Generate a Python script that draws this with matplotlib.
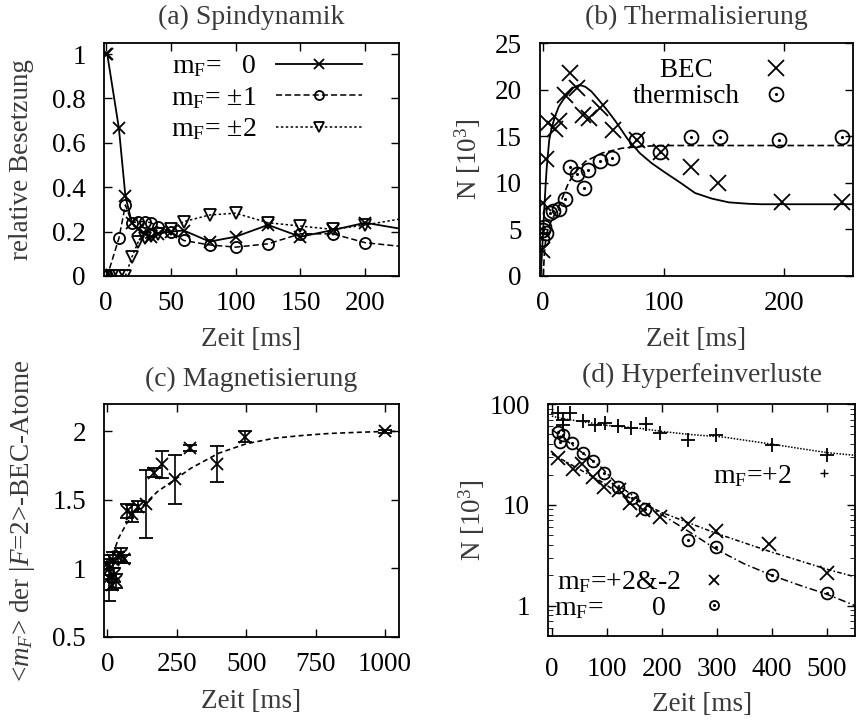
import matplotlib
matplotlib.use("Agg")
import matplotlib.pyplot as plt
from matplotlib.ticker import FixedLocator, NullFormatter, LogLocator

plt.rcParams['font.family'] = ['Liberation Serif', 'DejaVu Serif']
plt.rcParams['mathtext.fontset'] = 'custom'
plt.rcParams['mathtext.rm'] = 'Liberation Serif'
plt.rcParams['mathtext.it'] = 'Liberation Serif:italic'
plt.rcParams['font.size'] = 19.5
plt.rcParams['axes.linewidth'] = 1.3

TXT = '#3a3a3a'

# ---- (a) Spindynamik
t_a = [0, 1, 10, 15, 20, 25, 30, 35, 40, 50, 60, 80, 100, 125, 150, 175, 200, 250]
mf0 = [1.0, 1.0, 0.665, 0.36, 0.24, 0.21, 0.19, 0.175, 0.19, 0.20, 0.205, 0.155, 0.177, 0.23, 0.177, 0.207, 0.24, 0.19]
mf1 = [0.0, 0.0, 0.17, 0.32, 0.24, 0.245, 0.245, 0.24, 0.22, 0.20, 0.16, 0.14, 0.13, 0.145, 0.19, 0.19, 0.15, 0.12]
t_a2 = [0, 5, 10, 15, 20, 25, 30, 35, 40, 50, 60, 80, 100, 125, 150, 175, 200, 250]
mf2 = [0.0, 0.0, 0.0, 0.0, 0.085, 0.155, 0.17, 0.18, 0.19, 0.21, 0.245, 0.275, 0.283, 0.24, 0.225, 0.21, 0.23, 0.28]

# ---- (b) Thermalisierung
t_bec = [-1, 0, 2.5, 4, 9.5, 13, 18, 22, 28, 33, 38, 47, 58, 78, 98, 123, 145, 198, 248]
n_bec = [2.8, 7.8, 12.5, 16.4, 15.8, 16.6, 19.4, 21.8, 20.2, 17.3, 16.9, 18.0, 15.7, 14.6, 13.35, 11.7, 9.95, 7.9, 7.9]
t_th = [-1, -0.5, 1, 2, 5.5, 8, 13, 18, 22.5, 28, 33.5, 37.5, 47, 57, 77, 97, 123, 147, 196, 248]
n_th = [4.0, 4.9, 5.3, 4.6, 6.8, 7.0, 7.2, 8.3, 11.7, 10.9, 9.4, 11.4, 12.3, 12.7, 14.6, 13.35, 14.9, 14.9, 14.6, 14.9]
fit_bec_t = [-2, -1, 0, 1, 2, 3, 5, 7, 10, 13, 17, 21, 25, 30, 35, 40, 46, 53, 60, 70, 80, 90, 100, 115, 126, 140, 154, 170, 181, 200, 260]
fit_bec_n = [0, 2.5, 5.0, 7.5, 9.8, 11.8, 14.6, 15.9, 17.2, 18.2, 19.0, 19.6, 20.2, 20.5, 20.3, 19.8, 18.9, 17.8, 16.6, 14.7, 13.2, 12.1, 11.2, 9.9, 8.9, 8.3, 7.9, 7.75, 7.7, 7.7, 7.7]
fit_th_t = [0, 1, 2, 4, 7, 10, 15, 21, 27, 35, 49, 65, 80, 100, 260]
fit_th_n = [0, 2.5, 3.8, 5.1, 6.0, 6.7, 8.1, 10.0, 11.2, 12.3, 13.2, 13.7, 13.9, 14.0, 14.0]

# ---- (c) Magnetisierung
t_c = [0, 5, 10, 15, 20, 25, 30, 40, 50, 60, 70, 90, 110, 140, 168, 196, 244, 296, 396, 496, 1000]
m_c = [1.03, 0.93, 1.0, 0.88, 1.06, 0.95, 0.91, 1.08, 1.10, 1.07, 1.42, 1.40, 1.45, 1.47, 1.70, 1.76, 1.65, 1.88, 1.76, 1.96, 2.0]
e_c = [0.04, 0.17, 0.05, 0.04, 0.06, 0.05, 0.05, 0.04, 0.05, 0.03, 0.05, 0.06, 0.04, 0.25, 0.03, 0.10, 0.18, 0.02, 0.13, 0.04, 0.01]
fit_c_t = [20, 40, 70, 100, 140, 180, 230, 300, 400, 500, 600, 700, 800, 900, 1000, 1050]
fit_c_m = [1.10, 1.22, 1.33, 1.41, 1.48, 1.56, 1.63, 1.73, 1.84, 1.91, 1.95, 1.97, 1.985, 1.993, 2.0, 2.0]

# ---- (d) Hyperfeinverluste
t_p2 = [12, 20, 20, 33, 57, 78, 96, 120, 144, 171, 196, 247, 298, 400, 500]
n_p2 = [81, 70, 62, 81, 68.6, 62, 64.6, 60, 58, 63.5, 52, 44, 49.5, 39, 31]
t_pm = [12, 38, 54, 75, 95, 122, 142, 165, 197, 247, 298, 395, 500]
n_pm = [29.5, 22.5, 25.5, 19, 15, 13.9, 10.5, 8.9, 7.6, 6.5, 5.5, 4.1, 2.1]
t_m0 = [11, 15, 20, 36, 57, 75, 95, 121, 146, 169, 247, 298, 400, 500]
n_m0 = [53, 42.5, 49.5, 41, 32.5, 27, 20.5, 15.1, 11.6, 9.2, 4.5, 3.8, 2.0, 1.33]
fit_p2_t = [0, 15, 50, 100, 160, 200, 250, 313, 400, 500, 552]
fit_p2_n = [76, 72.5, 67.5, 61.5, 57.5, 53.5, 50, 47, 40, 33, 31]
fit_d_t = [0, 30, 60, 90, 120, 160, 200, 250, 300, 350, 400, 450, 500, 552]
fit_pm_n = [32, 26, 21, 17, 13.2, 10.7, 8.4, 6.6, 5.2, 4.2, 3.4, 2.8, 2.3, 1.93]
fit_m0_n = [56, 42, 31.5, 23.5, 15.8, 11.0, 8.0, 5.4, 3.6, 2.6, 2.0, 1.6, 1.3, 1.0]

fig = plt.figure(figsize=(8.56, 7.24), dpi=100)
ax_a = fig.add_axes([0.1215, 0.6188, 0.3446, 0.3218])
ax_b = fig.add_axes([0.6308, 0.6188, 0.3657, 0.3218])
ax_c = fig.add_axes([0.1215, 0.1202, 0.3446, 0.3218])
ax_d = fig.add_axes([0.6402, 0.1215, 0.3590, 0.3204])

titles = {ax_a: ('(a) Spindynamik', 1.11), ax_b: ('(b) Thermalisierung', 1.11),
          ax_c: ('(c) Magnetisierung', 1.105), ax_d: ('(d) Hyperfeinverluste', 1.125)}
xlab_y = {ax_a: -0.22, ax_b: -0.22, ax_c: -0.225, ax_d: -0.24}
ylab_x = {ax_a: -0.237, ax_b: -0.182, ax_c: -0.227, ax_d: -0.198}

for ax in (ax_a, ax_b, ax_c, ax_d):
    ax.tick_params(direction='in', top=True, right=True, length=6, width=1.0,
                   pad=13)
    ax.tick_params(axis='x', pad=11)
    ax.tick_params(which='minor', direction='in', top=True, right=True, length=3.5)
    ax.set_xlabel('Zeit [ms]', color=TXT)
    ax.xaxis.set_label_coords(0.5, xlab_y[ax])
    ax.text(0.5, titles[ax][1], titles[ax][0], transform=ax.transAxes,
            ha='center', va='center', fontsize=20, color=TXT)

ms_kw = dict(color='black', mfc='none', mew=1.3)

# (a)
ax_a.plot(t_a, mf0, '-', marker='x', ms=9, lw=1.3, **ms_kw)
ax_a.plot(t_a, mf1, ls=(0, (4, 2)), marker='o', ms=8, lw=1.1, **ms_kw)
ax_a.plot(t_a2, mf2, ls=(0, (1.6, 1.6)), marker='v', ms=8, lw=1.1, **ms_kw)
k0, = ax_a.plot([], [], '-', marker='x', ms=7, lw=1.3, **ms_kw)
k1, = ax_a.plot([], [], ls=(0, (4, 2)), marker='o', ms=6.5, lw=1.1, **ms_kw)
k2, = ax_a.plot([], [], ls=(0, (1.6, 1.6)), marker='v', ms=6.5, lw=1.1, **ms_kw)
ax_a.set_xlim(-1.5, 226)
ax_a.set_ylim(0, 1.05)
ax_a.set_xticks([0, 50, 100, 150, 200])
ax_a.set_yticks([0, 0.2, 0.4, 0.6, 0.8, 1])
ax_a.set_yticklabels(['0', '0.2', '0.4', '0.6', '0.8', '1'])
ax_a.set_ylabel('relative Besetzung', color=TXT)
ax_a.legend([k0, k1, k2],
            [r'm$_{\rm F}$=   0', r'm$_{\rm F}$= $\pm$1', r'm$_{\rm F}$= $\pm$2'],
            loc='upper left', bbox_to_anchor=(0.2, 0.99), frameon=False,
            markerfirst=False, handlelength=3.1, labelspacing=0.2,
            handletextpad=0.7, borderaxespad=0.0, borderpad=0.3,
            prop={'size': 20})

# (b)
ax_b.plot(fit_bec_t, fit_bec_n, '-', color='black', lw=1.3)
ax_b.plot(fit_th_t, fit_th_n, ls=(0, (4, 2)), color='black', lw=1.2)
hb, = ax_b.plot(t_bec, n_bec, 'x', ms=11, **ms_kw)
hc, = ax_b.plot(t_th, n_th, 'o', ms=10, **ms_kw)
hd, = ax_b.plot(t_th, n_th, '.', ms=2.5, color='black')
ax_b.set_xlim(-2.7, 257)
ax_b.set_ylim(0, 25)
ax_b.set_xticks([0, 100, 200])
ax_b.set_yticks([0, 5, 10, 15, 20, 25])
ax_b.set_ylabel(r'N [10$^3$]', color=TXT)
ax_b.legend([hb, (hc, hd)], ['BEC    ', 'thermisch'], loc='upper left',
            bbox_to_anchor=(0.27, 0.97), frameon=False, markerfirst=False,
            handlelength=1.4, labelspacing=0.05, handletextpad=0.65,
            borderaxespad=0.0, borderpad=0.3, prop={'size': 19.5})

# (c)
ax_c.plot(fit_c_t, fit_c_m, ls=(0, (3, 2)), color='black', lw=1.2)
ax_c.errorbar(t_c, m_c, yerr=e_c, fmt='x', ms=9, color='black', mew=1.3,
              elinewidth=1.2, capsize=5, capthick=1.2)
ax_c.set_xlim(-12, 1050)
ax_c.set_ylim(0.5, 2.2)
ax_c.set_xticks([0, 250, 500, 750, 1000])
ax_c.set_yticks([0.5, 1, 1.5, 2])
ax_c.set_yticklabels(['0.5', '1', '1.5', '2'])
ax_c.set_ylabel(r'<$m_F$> der |$F$=2>-BEC-Atome', color=TXT)

# (d)
ax_d.plot(fit_p2_t, fit_p2_n, ls=(0, (1, 1)), color='black', lw=1.1)
ax_d.plot(fit_d_t, fit_pm_n, ls=(0, (3, 1.5, 1, 1.5)), color='black', lw=1.1)
ax_d.plot(fit_d_t, fit_m0_n, ls=(0, (5, 2, 1, 2)), color='black', lw=1.1)
ax_d.plot(t_p2, n_p2, '+', ms=10, **ms_kw)
ax_d.plot(t_pm, n_pm, 'x', ms=9.5, **ms_kw)
ax_d.plot(t_m0, n_m0, 'o', ms=8.5, **ms_kw)
ax_d.plot(t_m0, n_m0, '.', ms=2.5, color='black')
ax_d.set_yscale('log')
ax_d.set_xlim(-7, 552)
ax_d.set_ylim(0.5, 100)
ax_d.set_xticks([0, 100, 200, 300, 400, 500])
ax_d.yaxis.set_major_locator(FixedLocator([1, 10, 100]))
ax_d.yaxis.set_minor_locator(LogLocator(base=10, subs=range(2, 10)))
ax_d.yaxis.set_minor_formatter(NullFormatter())
ax_d.set_yticklabels(['1', '10', '100'])
ax_d.tick_params(axis='x', pad=15)
ax_d.set_ylabel(r'N [10$^3$]', color=TXT)

lp, = ax_d.plot([], [], '+', ms=6, color='black', mew=1.0)
lx, = ax_d.plot([], [], 'x', ms=7, **ms_kw)
lo, = ax_d.plot([], [], 'o', ms=6.5, **ms_kw)
ld, = ax_d.plot([], [], '.', ms=2.5, color='black')
leg1 = ax_d.legend([lp], [r'm$_{\rm F}$=+2'], loc='center left',
                   bbox_to_anchor=(0.5, 0.69), frameon=False, markerfirst=False,
                   handlelength=1.0, handletextpad=0.65, borderaxespad=0.0,
                   prop={'size': 20})
ax_d.add_artist(leg1)
ax_d.legend([lx, (lo, ld)], [r'm$_{\rm F}$=+2&-2', r'm$_{\rm F}$=       0   '],
            loc='lower left', bbox_to_anchor=(0.0, 0.04), frameon=False,
            markerfirst=False, handlelength=1.2, handletextpad=0.6,
            labelspacing=0.0, borderaxespad=0.0, borderpad=0.2,
            prop={'size': 20})

for ax in (ax_a, ax_b, ax_c, ax_d):
    ax.yaxis.set_label_coords(ylab_x[ax], 0.5)

fig.savefig('out.png', dpi=100)
